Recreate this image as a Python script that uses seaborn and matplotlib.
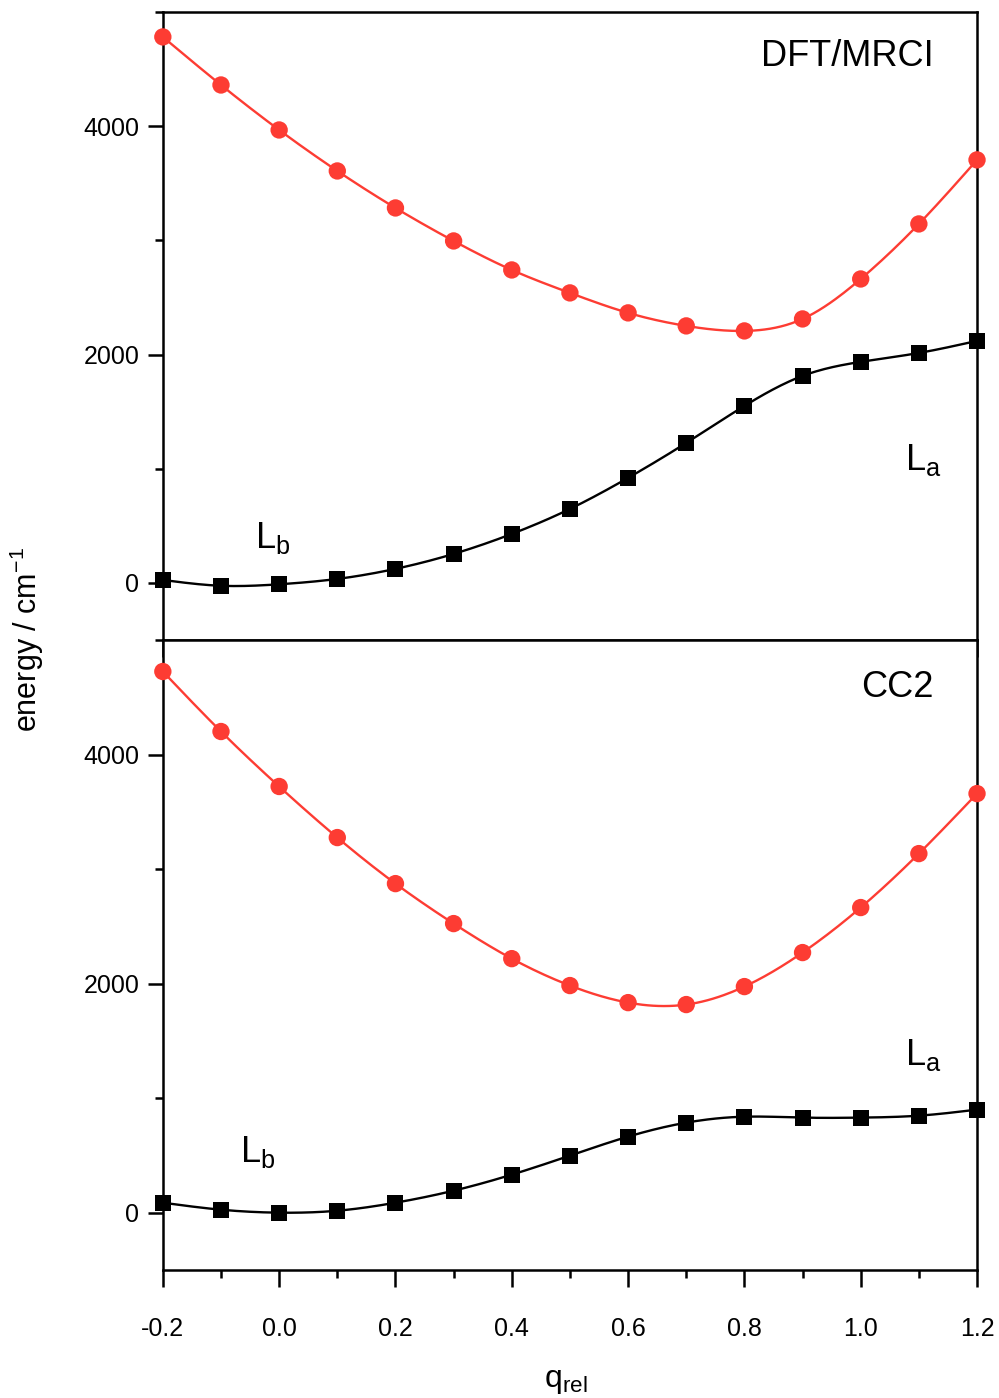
import numpy as np
import matplotlib
matplotlib.use('Agg')
import matplotlib.pyplot as plt
import seaborn as sns
from matplotlib.ticker import MultipleLocator

# q_rel grid
q_rel = [-0.2, -0.1, 0.0, 0.1, 0.2, 0.3, 0.4, 0.5, 0.6, 0.7, 0.8, 0.9, 1.0, 1.1, 1.2]

# DFT/MRCI energies (cm-1)
mrci_la = [4782, 4361, 3967, 3608, 3284, 2995, 2741, 2540, 2365, 2251, 2207, 2312, 2662, 3144, 3705]
mrci_lb = [26, -25, -12, 35, 123, 254, 429, 648, 920, 1226, 1550, 1813, 1936, 2014, 2120]

# CC2 energies (cm-1)
cc2_la = [4725, 4201, 3721, 3275, 2873, 2524, 2218, 1983, 1834, 1817, 1974, 2271, 2664, 3135, 3659]
cc2_lb = [87, 26, 0, 17, 87, 192, 332, 498, 664, 786, 838, 830, 830, 847, 900]

red = '#fd3c33'


def spline(x, y, n=300):
    # natural cubic spline through the points, just for drawing the line
    x = np.asarray(x, float)
    y = np.asarray(y, float)
    h = np.diff(x)
    k = len(x)
    A = np.zeros((k, k))
    b = np.zeros(k)
    A[0, 0] = A[-1, -1] = 1
    for i in range(1, k - 1):
        A[i, i - 1] = h[i - 1]
        A[i, i] = 2 * (h[i - 1] + h[i])
        A[i, i + 1] = h[i]
        b[i] = 6 * ((y[i + 1] - y[i]) / h[i] - (y[i] - y[i - 1]) / h[i - 1])
    M = np.linalg.solve(A, b)
    xs = np.linspace(x[0], x[-1], n)
    idx = np.clip(np.searchsorted(x, xs) - 1, 0, k - 2)
    x0, x1 = x[idx], x[idx + 1]
    hh = x1 - x0
    t0, t1 = x1 - xs, xs - x0
    ys = (M[idx] * t0 ** 3 + M[idx + 1] * t1 ** 3) / (6 * hh) \
        + (y[idx] / hh - M[idx] * hh / 6) * t0 + (y[idx + 1] / hh - M[idx + 1] * hh / 6) * t1
    return xs, ys


sns.set_style('ticks')
plt.rcParams['font.family'] = ['Liberation Sans', 'DejaVu Sans']
plt.rcParams['mathtext.fontset'] = 'custom'
plt.rcParams['mathtext.rm'] = 'Liberation Sans'
plt.rcParams['axes.unicode_minus'] = False
plt.rcParams['text.color'] = 'black'
plt.rcParams['xtick.color'] = 'black'
plt.rcParams['ytick.color'] = 'black'
plt.rcParams['xtick.labelcolor'] = 'black'
plt.rcParams['ytick.labelcolor'] = 'black'

fig = plt.figure(figsize=(9.99, 13.98), dpi=100)
ax1 = fig.add_axes([0.163, 0.5422, 0.815, 0.4492])
ax2 = fig.add_axes([0.163, 0.0916, 0.815, 0.4506], sharex=ax1)

panels = [
    (ax1, mrci_la, mrci_lb, 'DFT/MRCI', (1.126, 4607), (1.076, 1077), (-0.042, 394)),
    (ax2, cc2_la, cc2_lb, 'CC2', (1.126, 4585), (1.076, 1380), (-0.068, 533)),
]

for ax, la, lb, title, tpos, lapos, lbpos in panels:
    for ys, col, mk, ms in [(la, red, 'o', 12.5), (lb, 'black', 's', 11.5)]:
        xs, yy = spline(q_rel, ys)
        ax.plot(xs, yy, color=col, lw=1.7, zorder=2)
        sns.scatterplot(x=q_rel, y=ys, ax=ax, color=col, marker=mk, s=ms ** 2,
                        edgecolor='none', zorder=3, clip_on=False)
    ax.set_xlim(-0.2, 1.2)
    ax.set_ylim(-500, 5000)
    ax.yaxis.set_major_locator(MultipleLocator(2000))
    ax.yaxis.set_minor_locator(MultipleLocator(1000))
    ax.xaxis.set_major_locator(MultipleLocator(0.2))
    ax.xaxis.set_minor_locator(MultipleLocator(0.1))
    ax.text(*tpos, title, ha='right', va='center', fontsize=26)
    ax.text(*lapos, r'L$_\mathregular{a}$', ha='left', va='center', fontsize=26)
    ax.text(*lbpos, r'L$_\mathregular{b}$', ha='left', va='center', fontsize=26)
    for s in ax.spines.values():
        s.set_linewidth(1.8)
        s.set_color('black')
    ax.tick_params(axis='y', which='major', direction='out', length=11, width=1.8,
                   pad=6, labelsize=18)
    ax.tick_params(axis='y', which='minor', direction='out', length=5.5, width=1.8)
    ax.tick_params(axis='x', which='major', direction='out', length=12, width=1.8,
                   pad=22, labelsize=18)
    ax.tick_params(axis='x', which='minor', direction='out', length=6, width=1.8)

ax1.tick_params(axis='x', which='both', labelbottom=False, top=False)
ax2.tick_params(axis='x', which='both', top=False)
ax2.set_xticks([-0.2, 0.0, 0.2, 0.4, 0.6, 0.8, 1.0, 1.2])
ax2.set_xticklabels(['-0.2', '0.0', '0.2', '0.4', '0.6', '0.8', '1.0', '1.2'])

fig.text(0.027, 0.5422, r'energy / cm$^\mathregular{-1}$', rotation=90,
         ha='center', va='center', fontsize=22)
fig.text(0.566, 0.012, r'q$_\mathregular{rel}$', ha='center', va='center', fontsize=23)

fig.savefig('out.png', dpi=100)
